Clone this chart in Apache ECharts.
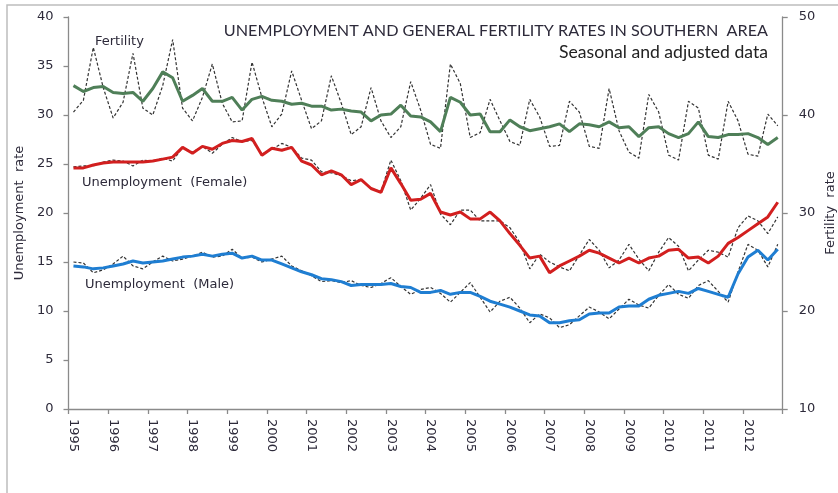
<!DOCTYPE html>
<html>
<head>
<meta charset="utf-8">
<script src="https://cdn.jsdelivr.net/npm/echarts@6/dist/echarts.min.js"></script>
<style>
html,body{margin:0;padding:0;background:#fff;}
#chart{width:838px;height:493px;}
</style>
</head>
<body>
<div id="chart"></div>
<script>
// ---- data (quarterly, 1995 Q1 .. 2012 Q4) ----
const years = [1995,1996,1997,1998,1999,2000,2001,2002,2003,2004,2005,2006,2007,2008,2009,2010,2011,2012];
const quarters = ['Q1','Q2','Q3','Q4'];

const femaleRaw = [24.7,24.8,24.8,25.2, 25.4,25.3,24.8,25.4, 25.3,25.6,25.3,26.7, 26.2,26.8,26.1,27.0,
  27.7,27.3,27.4,26.0, 26.5,27.1,26.7,25.6, 25.4,24.2,24.1,23.8, 23.3,23.4,22.5,22.2,
  25.4,23.3,20.3,21.5, 22.9,19.9,18.8,20.3, 20.3,19.2,19.2,19.2, 18.5,17.0,14.3,15.8,
  15.0,14.5,14.1,15.7, 17.3,16.2,14.4,15.2, 16.8,15.3,14.1,16.0, 17.5,16.6,14.1,15.2,
  16.2,16.0,15.5,18.5, 19.7,19.2,17.9,19.6];
const femaleSmooth = [24.6,24.6,24.9,25.1, 25.2,25.2,25.2,25.2, 25.3,25.5,25.7,26.7, 26.1,26.8,26.5,27.1,
  27.4,27.3,27.6,25.9, 26.6,26.4,26.7,25.3, 24.9,23.9,24.3,23.9, 22.9,23.4,22.5,22.1,
  24.6,23.0,21.3,21.4, 22.0,20.1,19.8,20.1, 19.4,19.4,20.1,19.2, 17.9,16.7,15.4,15.6,
  13.9,14.6,15.1,15.6, 16.2,15.9,15.4,14.9, 15.4,14.9,15.4,15.6, 16.2,16.3,15.4,15.5,
  14.9,15.6,16.9,17.5, 18.2,18.9,19.6,21.1];
const maleRaw = [15.0,14.9,13.9,14.2, 14.8,15.6,14.6,14.3, 15.0,15.6,15.1,15.3, 15.6,16.0,15.5,15.6,
  16.3,15.4,15.5,15.0, 15.3,15.6,14.6,14.1, 13.6,13.0,13.1,12.9, 13.1,12.6,12.4,12.8,
  13.4,12.5,11.7,12.2, 12.4,11.8,10.9,11.9, 12.9,11.4,9.9,11.0, 11.4,10.3,8.8,9.7,
  9.3,8.3,8.6,9.5, 10.4,9.9,9.2,10.2, 11.2,10.6,10.3,11.6, 12.7,11.7,11.3,12.6,
  13.1,12.0,10.9,14.0, 16.8,16.2,14.5,16.8];
const maleSmooth = [14.6,14.5,14.3,14.4, 14.6,14.8,15.1,14.9, 15.0,15.1,15.3,15.5, 15.6,15.8,15.6,15.8,
  15.9,15.4,15.6,15.2, 15.2,14.8,14.4,14.0, 13.7,13.3,13.2,13.0, 12.6,12.7,12.7,12.7,
  12.8,12.5,12.4,11.9, 11.9,12.1,11.7,11.9, 11.9,11.5,11.0,10.7, 10.4,10.0,9.6,9.5,
  8.8,8.8,9.0,9.1, 9.7,9.8,9.8,10.4, 10.5,10.5,11.2,11.6, 11.8,12.0,11.8,12.3,
  12.0,11.7,11.4,13.8, 15.5,16.2,15.2,16.3];
const fertilityRaw = [40.3,41.5,46.9,42.8, 39.7,41.3,46.3,40.7, 40.0,43.0,47.7,40.7, 39.4,41.8,45.2,41.2,
  39.3,39.4,45.4,41.8, 38.8,40.1,44.5,41.5, 38.6,39.4,44.0,41.2, 38.0,38.8,42.8,39.4,
  37.7,38.8,43.4,40.5, 37.0,36.6,45.2,43.2, 37.7,38.2,41.6,39.4, 37.3,36.9,41.6,39.8,
  36.8,36.9,41.4,40.3, 36.8,36.6,42.7,38.4, 36.2,35.6,42.1,40.3, 35.9,35.4,41.4,40.7,
  35.9,35.5,41.4,39.4, 36.0,35.8,40.1,38.9];
const fertilitySmooth = [43.0,42.4,42.8,42.9, 42.3,42.2,42.3,41.4, 42.7,44.4,43.8,41.4, 42.0,42.7,41.4,41.4,
  41.8,40.5,41.6,41.9, 41.5,41.4,41.1,41.2, 40.9,40.9,40.5,40.6, 40.4,40.3,39.4,40.0,
  40.1,41.0,39.9,39.8, 39.3,38.3,41.8,41.3, 40.0,40.1,38.3,38.3, 39.5,38.8,38.4,38.6,
  38.8,39.1,38.3,39.1, 39.0,38.8,39.3,38.7, 38.8,37.8,38.7,38.8, 38.1,37.7,38.1,39.3,
  37.8,37.7,38.0,38.0, 38.1,37.7,37.0,37.7];

const categories = years.flatMap(y => quarters.map(q => y + ' ' + q));

const titleText = 'UNEMPLOYMENT AND GENERAL FERTILITY RATES IN SOUTHERN  AREA';
const subtitleText = 'Seasonal and adjusted data';
const leftAxisName = 'Unemployment  rate';
const rightAxisName = 'Fertility  rate';
const labelFertility = 'Fertility';
const labelFemale = 'Unemployment  (Female)';
const labelMale = 'Unemployment  (Male)';

// ---- chart ----
const chart = echarts.init(document.getElementById('chart'), null, {renderer: 'canvas'});
const axisGray = '#8a8a8a';
const txt = '#2d2a3a';
const tickFont = 'DejaVu Sans';

const dashed = {color: '#333333', width: 1.2, type: [3, 2]};

chart.setOption({
  animation: false,
  backgroundColor: '#ffffff',
  grid: {left: 68.5, right: 55.3, top: 17, bottom: 84, containLabel: false},
  xAxis: {
    type: 'category',
    data: categories,
    boundaryGap: true,
    axisLine: {lineStyle: {color: axisGray, width: 1.3}},
    axisTick: {show: true, interval: 3, length: 5, lineStyle: {color: axisGray, width: 1.3}},
    axisLabel: {
      interval: 3, rotate: -90, margin: 10,
      color: txt, fontFamily: tickFont, fontSize: 13,
      formatter: v => v.slice(0, 4)
    },
    splitLine: {show: false}
  },
  yAxis: [
    {
      type: 'value', min: 0, max: 40, interval: 5, position: 'left',
      name: leftAxisName, nameLocation: 'middle', nameGap: 41, nameRotate: 90,
      nameTextStyle: {color: txt, fontFamily: tickFont, fontSize: 13},
      axisLine: {show: true, lineStyle: {color: axisGray, width: 1.3}},
      axisTick: {show: true, length: 5, lineStyle: {color: axisGray, width: 1.3}},
      axisLabel: {margin: 15, color: txt, fontFamily: tickFont, fontSize: 13},
      splitLine: {show: false}
    },
    {
      type: 'value', min: 10, max: 50, interval: 10, position: 'right',
      axisLine: {show: true, lineStyle: {color: axisGray, width: 1.3}},
      axisTick: {show: true, length: 5, lineStyle: {color: axisGray, width: 1.3}},
      axisLabel: {margin: 16, color: txt, fontFamily: tickFont, fontSize: 13},
      splitLine: {show: false}
    }
  ],
  series: [
    {name: 'Fertility raw', type: 'line', yAxisIndex: 1, data: fertilityRaw, symbol: 'none', lineStyle: dashed, z: 2},
    {name: 'Female raw', type: 'line', yAxisIndex: 0, data: femaleRaw, symbol: 'none', lineStyle: dashed, z: 2},
    {name: 'Male raw', type: 'line', yAxisIndex: 0, data: maleRaw, symbol: 'none', lineStyle: dashed, z: 2},
    {name: 'Fertility', type: 'line', yAxisIndex: 1, data: fertilitySmooth, symbol: 'none', lineStyle: {color: '#4f7f58', width: 3}, z: 3},
    {name: 'Unemployment (Female)', type: 'line', yAxisIndex: 0, data: femaleSmooth, symbol: 'none', lineStyle: {color: '#d21f1f', width: 3}, z: 3},
    {name: 'Unemployment (Male)', type: 'line', yAxisIndex: 0, data: maleSmooth, symbol: 'none', lineStyle: {color: '#1f7ed2', width: 3}, z: 3}
  ],
  graphic: [
    {type: 'polyline', shape: {points: [[7, 493], [7, 5], [838, 5]]}, style: {stroke: '#bdbdbd', lineWidth: 1.5, fill: null}, silent: true},
    {type: 'text', x: 768, y: 31, style: {text: titleText, fill: txt, font: '16.2px Lato', textAlign: 'right', textVerticalAlign: 'middle'}},
    {type: 'text', x: 768, y: 52, style: {text: subtitleText, fill: '#222', font: '17.6px Lato', textAlign: 'right', textVerticalAlign: 'middle'}},
    {type: 'text', x: 831, y: 213, rotation: Math.PI / 2, style: {text: rightAxisName, fill: txt, font: '13px "DejaVu Sans"', textAlign: 'center', textVerticalAlign: 'middle'}},
    {type: 'text', x: 95, y: 42, style: {text: labelFertility, fill: txt, font: '13px "DejaVu Sans"', textAlign: 'left', textVerticalAlign: 'middle'}},
    {type: 'text', x: 82, y: 183, style: {text: labelFemale, fill: txt, font: '13px "DejaVu Sans"', textAlign: 'left', textVerticalAlign: 'middle'}},
    {type: 'text', x: 85, y: 285, style: {text: labelMale, fill: txt, font: '13px "DejaVu Sans"', textAlign: 'left', textVerticalAlign: 'middle'}}
  ]
});
</script>
</body>
</html>
